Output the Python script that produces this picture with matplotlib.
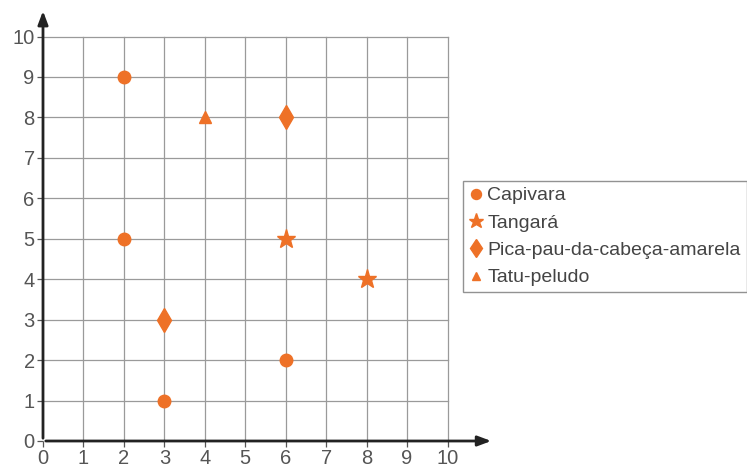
import matplotlib.pyplot as plt

plt.rcParams['font.family'] = ['Liberation Sans', 'DejaVu Sans']

# Dados
capivara_x = [2, 2, 3, 6]
capivara_y = [9, 5, 1, 2]
tangara_x = [6, 8]
tangara_y = [5, 4]
picapau_x = [6, 3]
picapau_y = [8, 3]
tatu_x = [4]
tatu_y = [8]
ticks = list(range(0, 11))

COR = '#EE7127'
CINZA_TXT = '#555555'

fig = plt.figure(figsize=(7.47, 4.68), dpi=100)
W, H = 747, 468
x0, y0 = 43, 441
ppu = 40.45
xmax, ymax = 11.2, 10.75
ax = fig.add_axes([x0 / W, 1 - y0 / H, xmax * ppu / W, ymax * ppu / H])
ax.set_xlim(0, xmax)
ax.set_ylim(0, ymax)
for s in ax.spines.values():
    s.set_visible(False)

# grade
for v in ticks[1:]:
    ax.plot([v, v], [0, 10], color='#9a9a9a', lw=0.9, zorder=1)
    ax.plot([0, 10], [v, v], color='#9a9a9a', lw=0.9, zorder=1)

# eixos com setas
ax.annotate('', xy=(11.15, 0), xytext=(0, 0),
            arrowprops=dict(arrowstyle='-|>,head_length=0.8,head_width=0.3', color='#222222', lw=2),
            annotation_clip=False)
ax.annotate('', xy=(0, 10.7), xytext=(0, 0),
            arrowprops=dict(arrowstyle='-|>,head_length=0.8,head_width=0.3', color='#222222', lw=2),
            annotation_clip=False)

ax.set_xticks(ticks)
ax.set_yticks(ticks)
ax.tick_params(length=4, width=0.9, color='#555555', labelcolor=CINZA_TXT,
               labelsize=14.5, pad=2)

ms = 9
ax.plot(capivara_x, capivara_y, 'o', color=COR, ms=ms, ls='none', label='Capivara', zorder=3)
ax.plot(tangara_x, tangara_y, '*', color=COR, ms=ms + 5, ls='none', label='Tangará', zorder=3)
ax.plot(picapau_x, picapau_y, 'd', color=COR, ms=ms + 3, ls='none', label='Pica-pau-da-cabeça-amarela', zorder=3)
ax.plot(tatu_x, tatu_y, '^', color=COR, ms=ms - 1, ls='none', label='Tatu-peludo', zorder=3)

leg = fig.legend(loc='upper left', bbox_to_anchor=(463 / W, 1 - 181 / H),
                 fontsize=14, frameon=True, fancybox=False, edgecolor='#777777',
                 handlelength=0.7, handletextpad=0.25, borderpad=0.3,
                 labelspacing=0.5, borderaxespad=0, markerscale=0.8)
for t in leg.get_texts():
    t.set_color('#444444')
leg.get_frame().set_linewidth(1.0)

fig.savefig('out.png', dpi=100)
